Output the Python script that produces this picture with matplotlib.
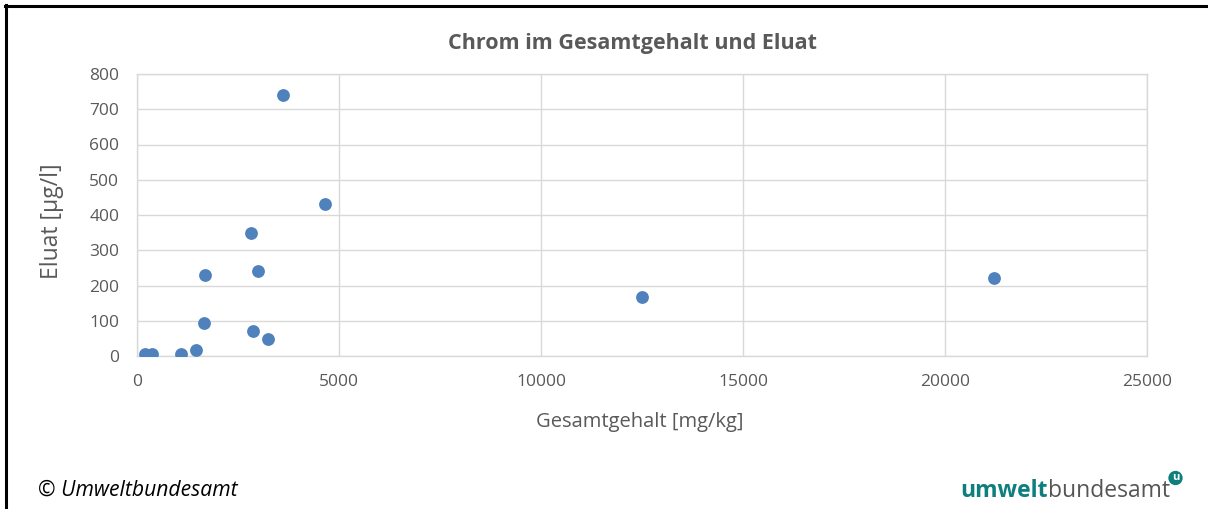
import matplotlib.pyplot as plt
from matplotlib.lines import Line2D

# Chrom: Gesamtgehalt [mg/kg] vs Eluat [µg/l]
gesamtgehalt = [190, 371, 1074, 1460, 1658, 1676, 2822, 2871, 2980, 3228, 3614, 4653, 12500, 21200]
eluat = [5, 5, 5, 18, 95, 230, 350, 72, 240, 48, 740, 430, 168, 220]

x_ticks = [0, 5000, 10000, 15000, 20000, 25000]
y_ticks = [0, 100, 200, 300, 400, 500, 600, 700, 800]

plt.rcParams['font.family'] = ['Open Sans', 'DejaVu Sans']
grey = '#595959'
gridc = '#d9d9d9'

fig = plt.figure(figsize=(12.08, 5.09), dpi=100)
fig.patch.set_facecolor('white')
ax = fig.add_axes([137.3 / 1208, 1 - 356 / 509, (1147 - 137.3) / 1208, (356 - 74) / 509])

ax.scatter(gesamtgehalt, eluat, s=85, color='#4F81BD', zorder=3, linewidths=0)

ax.set_xlim(0, 25000)
ax.set_ylim(0, 800)
ax.set_xticks(x_ticks)
ax.set_yticks(y_ticks)
ax.grid(True, color=gridc, linewidth=1)
ax.set_axisbelow(True)
ax.tick_params(length=0, labelsize=12.5, labelcolor=grey)
ax.tick_params(axis='x', pad=13)
ax.tick_params(axis='y', pad=13)
for s in ax.spines.values():
    s.set_color(gridc)
    s.set_linewidth(1)

fig.text(632 / 1208, 1 - 44 / 509, 'Chrom im Gesamtgehalt und Eluat', ha='center', va='center',
         fontsize=15.5, fontweight='bold', color=grey)
fig.text(640 / 1208, 1 - 422 / 509, 'Gesamtgehalt [mg/kg]', ha='center', va='center',
         fontsize=14.5, color=grey)
fig.text(52 / 1208, 1 - 221 / 509, 'Eluat [µg/l]', ha='center', va='center', rotation=90,
         fontsize=16.5, color=grey)

# copyright + logo
fig.text(38 / 1208, 1 - 490 / 509, '© Umweltbundesamt', ha='left', va='center',
         fontsize=15.2, style='italic', color='black')
t1 = fig.text(960 / 1208, 1 - 497 / 509, 'umwelt', ha='left', va='baseline',
              fontsize=16.5, fontweight='bold', color='#0e7f7c')
t2 = fig.text(0, 0, 'bundesamt', ha='left', va='baseline', fontsize=16.5, color='#555555')
fig.canvas.draw()
bb = t1.get_window_extent()
t2.set_position((bb.x1 / fig.bbox.width, 1 - 497 / 509))
fig.canvas.draw()
bb2 = t2.get_window_extent()
fig.text((bb2.x1 + 6) / fig.bbox.width, 1 - 478 / 509, 'u', ha='center', va='center',
         fontsize=8, fontweight='bold', color='white',
         bbox=dict(boxstyle='circle,pad=0.15', fc='#0e7f7c', ec='none'))

# black frame lines (top and left)
fig.add_artist(Line2D([5 / 1208, 1], [1 - 6 / 509, 1 - 6 / 509], color='black', linewidth=2.2,
                      transform=fig.transFigure))
fig.add_artist(Line2D([6 / 1208, 6 / 1208], [0, 1 - 5 / 509], color='black', linewidth=2.2,
                      transform=fig.transFigure))

fig.savefig('out.png', dpi=100, facecolor=fig.get_facecolor())
